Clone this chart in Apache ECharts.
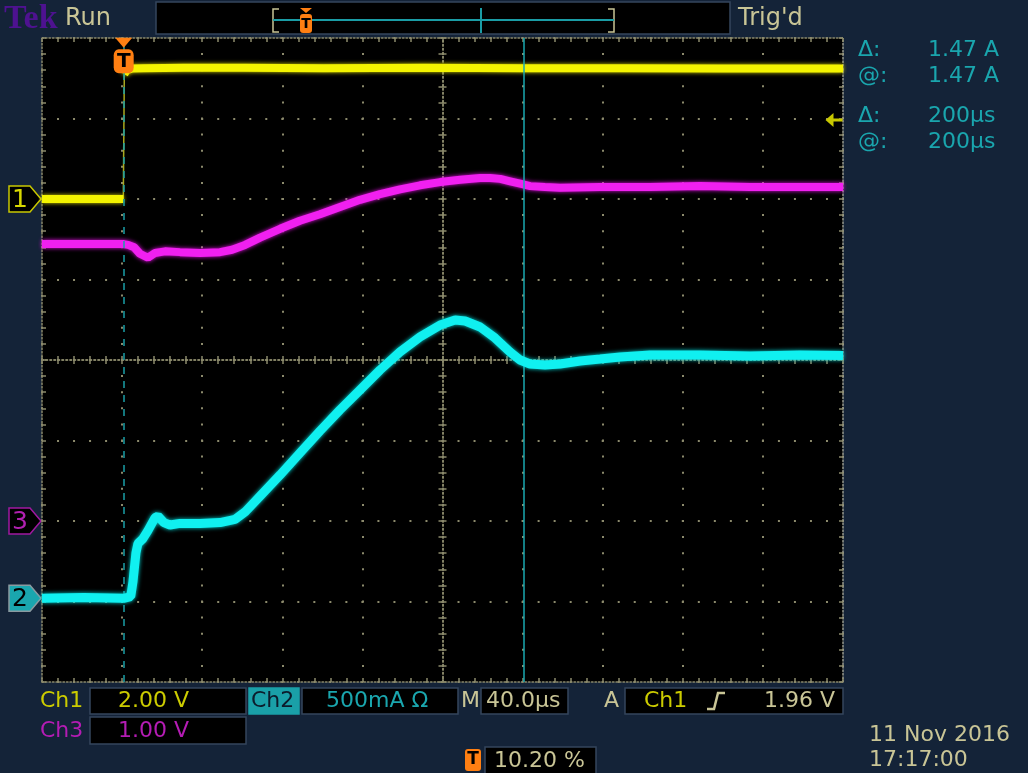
<!DOCTYPE html>
<html><head><meta charset="utf-8">
<script src="https://cdn.jsdelivr.net/npm/echarts@6/dist/echarts.min.js"></script>
<style>html,body{margin:0;padding:0;background:#142338;}#c{width:1028px;height:773px;}</style>
</head><body><div id="c"></div>
<script>
// ---------------- data (time in µs relative to trigger) ----------------
const timeMin = -40.8, timeMax = 359.2;          // 10.20 % pre-trigger, 40 µs/div
const ch1Time  = [-40.8, -20, -0.2, 0, 0.3, 1.5, 4, 10, 30, 60, 100, 150, 200, 250, 300, 359.2];
const ch1Volts = [0, 0, 0, null, 3.1, 3.2, 3.24, 3.25, 3.26, 3.26, 3.25, 3.26, 3.25, 3.25, 3.24, 3.24];

const ch2Time = [-40.8, -20, 0, 3.5, 4.6, 6.1, 7.1, 9.6, 12.1, 15.6, 17.1, 20.1, 23.1, 28.1, 38.1, 48.1, 55.6, 60.6, 68.1, 78.1, 88.0, 98.0, 108.0, 118.0, 128.0, 138.0, 148.0, 158.0, 165.5, 170.5, 178.0, 185.4, 192.9, 197.9, 202.9, 210.4, 217.9, 227.9, 237.9, 247.9, 262.8, 287.8, 312.8, 337.7, 359.2];
const ch2Amps = [0.0, 0.005, 0.0, 0.01, 0.10, 0.28, 0.34, 0.37, 0.42, 0.50, 0.51, 0.47, 0.455, 0.465, 0.465, 0.47, 0.49, 0.536, 0.635, 0.766, 0.902, 1.039, 1.17, 1.294, 1.418, 1.53, 1.623, 1.697, 1.728, 1.722, 1.685, 1.617, 1.53, 1.48, 1.455, 1.449, 1.455, 1.474, 1.486, 1.499, 1.511, 1.511, 1.505, 1.511, 1.508];

const ch3Time  = [-40.8, -11.8, 0, 2.2, 5.2, 8.1, 12.1, 15.6, 20.6, 28.1, 38.1, 48.1, 54.1, 60.6, 68.1, 78.1, 88.0, 98.0, 108.0, 118.0, 128.0, 138.0, 148.0, 158.0, 168.0, 178.0, 183.0, 188.0, 193.0, 198.0, 203.0, 210.4, 217.9, 237.9, 262.8, 287.8, 312.8, 337.7, 359.2];
const ch3Volts = [3.44, 3.44, 3.44, 3.43, 3.40, 3.32, 3.27, 3.33, 3.35, 3.34, 3.33, 3.34, 3.37, 3.43, 3.52, 3.63, 3.73, 3.81, 3.90, 3.99, 4.06, 4.12, 4.17, 4.21, 4.24, 4.26, 4.26, 4.25, 4.22, 4.19, 4.16, 4.15, 4.14, 4.15, 4.15, 4.16, 4.15, 4.15, 4.15];

const cursorTimes = [0, 200];   // µs
const triggerTime = 0;
const triggerLevel = 1.96;      // V on Ch1
// channel settings: scale per division, ground position in divisions
const ch1Scale = 2,   ch1Offset = 2;
const ch2Scale = 0.5, ch2Offset = -2.96;
const ch3Scale = 1,   ch3Offset = -2;

// ---------------- chart ----------------
const chart = echarts.init(document.getElementById('c'), null, {renderer: 'canvas'});
const zip = (t, v) => t.map((x, i) => [x, v[i]]);
const gridC = '#8c8a6c';
const FONT = 'DejaVu Sans';

function divAxis(extra) {
  return Object.assign({
    type: 'value', min: -5, max: 5, interval: 1, gridIndex: 0,
    axisLabel: {show: false},
    splitLine: {show: false},
    axisLine: {show: true, onZero: true, onZeroAxisIndex: 0, lineStyle: {color: gridC, width: 1.5, type: [1.5, 2.5]}},
    axisTick: {show: true, inside: true, length: 4, lineStyle: {color: gridC, width: 1.5}},
    minorTick: {show: true, splitNumber: 5, length: 4, lineStyle: {color: gridC, width: 1.5}},
    minorSplitLine: {show: false}
  }, extra);
}
function chAxis(scale, offset) {
  return {type: 'value', show: false, min: (-4 - offset) * scale, max: (4 - offset) * scale, splitLine: {show: false}, axisLine: {onZero: false}};
}

const ch1Data = zip(ch1Time, ch1Volts);
const gapIdx = ch1Volts.indexOf(null);
const ch1Edge = [ch1Data[gapIdx - 1], ch1Data[gapIdx + 1]];

const option = {
  backgroundColor: '#142338',
  animation: false,
  grid: {left: 42, top: 38, width: 801, height: 644, show: true, backgroundColor: '#000', borderWidth: 0},
  xAxis: [
    divAxis({position: 'bottom', splitLine: {show: true, lineStyle: {color: gridC, width: 2, type: [2, 14.1], dashOffset: 1}}}),
    divAxis({position: 'top'}),
    divAxis({position: 'bottom', axisLine: {show: true, onZero: false, lineStyle: {color: gridC, width: 1.5, type: [1.5, 2]}}}),
    divAxis({position: 'top', axisLine: {show: true, onZero: false, lineStyle: {color: gridC, width: 1.5, type: [1.5, 2]}}}),
    {type: 'value', show: false, min: timeMin, max: timeMax, splitLine: {show: false}, axisLine: {onZero: false}}
  ],
  yAxis: [
    divAxis({min: -4, max: 4, position: 'left', splitLine: {show: true, lineStyle: {color: gridC, width: 2, type: [2, 14.02], dashOffset: 1}}}),
    divAxis({min: -4, max: 4, position: 'right'}),
    divAxis({min: -4, max: 4, position: 'left', axisLine: {show: true, onZero: false, lineStyle: {color: gridC, width: 1.5, type: [1.5, 2]}}}),
    divAxis({min: -4, max: 4, position: 'right', axisLine: {show: true, onZero: false, lineStyle: {color: '#9a9c90', width: 1.5, type: [1.5, 2]}}}),
    chAxis(ch1Scale, ch1Offset),
    chAxis(ch2Scale, ch2Offset),
    chAxis(ch3Scale, ch3Offset)
  ],
  series: [
    {name: 'Ch1 edge', type: 'line', xAxisIndex: 4, yAxisIndex: 4, data: ch1Edge, showSymbol: false, silent: true,
     lineStyle: {color: '#a8a820', width: 1.5}, z: 3},
    {name: 'Ch1', type: 'line', xAxisIndex: 4, yAxisIndex: 4, data: ch1Data, showSymbol: false, connectNulls: false, silent: true,
     lineStyle: {color: '#f4f400', width: 8, shadowBlur: 4, shadowColor: '#d8d800'}, z: 4},
    {name: 'Ch3', type: 'line', xAxisIndex: 4, yAxisIndex: 6, data: zip(ch3Time, ch3Volts), showSymbol: false, silent: true,
     lineStyle: {color: '#f020f0', width: 8, shadowBlur: 4, shadowColor: '#e010e0'}, z: 4},
    {name: 'Ch2', type: 'line', xAxisIndex: 4, yAxisIndex: 5, data: zip(ch2Time, ch2Amps), showSymbol: false, silent: true,
     lineStyle: {color: '#10f0f0', width: 9, shadowBlur: 4, shadowColor: '#00d8d8'}, z: 5},
    {name: 'markers', type: 'line', xAxisIndex: 4, yAxisIndex: 0, data: [], silent: true, z: 6,
     markLine: {symbol: ['none', 'none'], silent: true, label: {show: false}, animation: false,
       data: [
         {xAxis: cursorTimes[0], lineStyle: {color: '#1a9ea6', width: 1.5, type: [7, 7]}},
         {xAxis: cursorTimes[1], lineStyle: {color: '#1aa8b0', width: 1.5, type: 'solid'}}
       ]},
     markPoint: {silent: true, animation: false,
       data: [
         {coord: [triggerTime, 3.94], symbol: 'triangle', symbolRotate: 180, symbolSize: [17, 10], itemStyle: {color: '#ff7f12'}, label: {show: false}},
         {coord: [triggerTime, 3.71], symbol: 'roundRect', symbolSize: [20, 24], itemStyle: {color: '#ff7f12'},
          label: {show: true, position: 'inside', formatter: 'T', color: '#000', fontWeight: 'bold', fontSize: 20, fontFamily: FONT}},
         {coord: [timeMax, triggerLevel / ch1Scale + ch1Offset], symbol: 'path://M0,7 L8,0 L8,5.5 L17,5.5 L17,8.5 L8,8.5 L8,14 Z',
          symbolSize: [17, 14], symbolOffset: [-9, 0], itemStyle: {color: '#c8c800'}, label: {show: false}}
       ]}
    }
  ]
};
chart.setOption(option);

// ---------------- screen chrome ----------------
const khaki = '#c9c596', teal = '#1aa6ae', yellow = '#cccc00', magenta = '#b41cb4';
function txt(x, y, s, color, size, extra) {
  return Object.assign({type: 'text', x: x, y: y, silent: true,
    style: Object.assign({text: s, fill: color, font: (size || 22) + 'px "' + FONT + '"', textVerticalAlign: 'middle'}, extra && extra.style)}, extra && extra.el);
}
function box(x, y, w, h, fill, stroke) {
  return {type: 'rect', silent: true, shape: {x: x, y: y, width: w, height: h}, style: {fill: fill || '#000', stroke: stroke || '#34465c', lineWidth: 1.5}};
}
function poly(points, stroke, w, fill) {
  return {type: fill ? 'polygon' : 'polyline', silent: true, shape: {points: points}, style: {stroke: stroke, lineWidth: w || 1.5, fill: fill || null, lineDash: null}};
}
const g = [];
// top bar
g.push({type: 'text', x: 4, y: 19, silent: true, style: {text: 'Tek', fill: '#4e1290', font: 'bold 34px "Liberation Serif"', textVerticalAlign: 'middle'}});
g.push(txt(65, 19, 'Run', khaki, 24));
g.push(box(156, 2, 574, 32, '#000', '#34465c'));
g.push(poly([[279, 9], [273, 9], [273, 32], [279, 32]], khaki, 1.5));
g.push(poly([[608, 9], [614, 9], [614, 32], [608, 32]], khaki, 1.5));
g.push(poly([[273, 20], [614, 20]], '#1a9ca5', 2));
g.push(poly([[481, 8], [481, 33]], '#1a9ca5', 2));
g.push({type: 'rect', silent: true, shape: {x: 300, y: 14, width: 12, height: 19, r: 3}, style: {fill: '#ff7f12'}});
g.push(poly([[300, 8], [312, 8], [306, 13]], null, 0, '#ff7f12'));
g.push(txt(306, 24, 'T', '#000', 14, {style: {textAlign: 'center', font: 'bold 14px "' + FONT + '"'}}));
g.push(txt(738, 19, "Trig'd", khaki, 24));
// right readouts
[['Δ:', '1.47 A', 50], ['@:', '1.47 A', 76], ['Δ:', '200µs', 116], ['@:', '200µs', 142]].forEach(r => {
  g.push(txt(858, r[2], r[0], teal, 22));
  g.push(txt(928, r[2], r[1], teal, 22));
});
// bottom readouts
g.push(txt(40, 701, 'Ch1', yellow));
g.push(box(90, 688, 156, 26));
g.push(txt(118, 701, '2.00 V', yellow));
g.push(box(249, 688, 50, 26, '#1aa0a8', '#1aa0a8'));
g.push(txt(251, 701, 'Ch2', '#0c1c2c'));
g.push(box(302, 688, 156, 26));
g.push(txt(326, 701, '500mA Ω', teal));
g.push(txt(461, 701, 'M', khaki));
g.push(box(481, 688, 87, 26));
g.push(txt(486, 701, '40.0µs', khaki));
g.push(txt(604, 701, 'A', khaki));
g.push(box(625, 688, 218, 26));
g.push(txt(644, 701, 'Ch1', yellow));
g.push(poly([[707, 709], [714, 709], [718, 693], [725, 693]], khaki, 2.5));
g.push(txt(764, 701, '1.96 V', khaki));
g.push(txt(40, 731, 'Ch3', magenta));
g.push(box(90, 717, 156, 27));
g.push(txt(118, 731, '1.00 V', magenta));
g.push({type: 'rect', silent: true, shape: {x: 465, y: 749, width: 16, height: 22, r: 3}, style: {fill: '#ff7f12'}});
g.push(txt(473, 760, 'T', '#000', 17, {style: {textAlign: 'center', font: 'bold 17px "' + FONT + '"'}}));
g.push(box(485, 747, 111, 28));
g.push(txt(494, 761, '10.20 %', khaki));
g.push(txt(869, 735, '11 Nov 2016', khaki));
g.push(txt(869, 760, '17:17:00', khaki));
// channel ground markers (positions from the division axis)
const gLeft = 42;
[[ch1Offset, '1', '#000', '#c8c800', '#d8d800'], [ch3Offset, '3', '#000', '#a018a0', '#b020b0'], [ch2Offset, '2', '#1aa6ae', '#8a9aa0', '#000']].forEach(m => {
  const y = chart.convertToPixel({yAxisIndex: 0}, m[0]);
  g.push(poly([[9, y - 13], [30, y - 13], [gLeft - 1, y], [30, y + 13], [9, y + 13]], m[3], 1.5, m[2]));
  g.push(txt(20, y + 1, m[1], m[4], 25, {style: {textAlign: 'center'}}));
});
chart.setOption({graphic: {elements: g}});
</script>
</body></html>
